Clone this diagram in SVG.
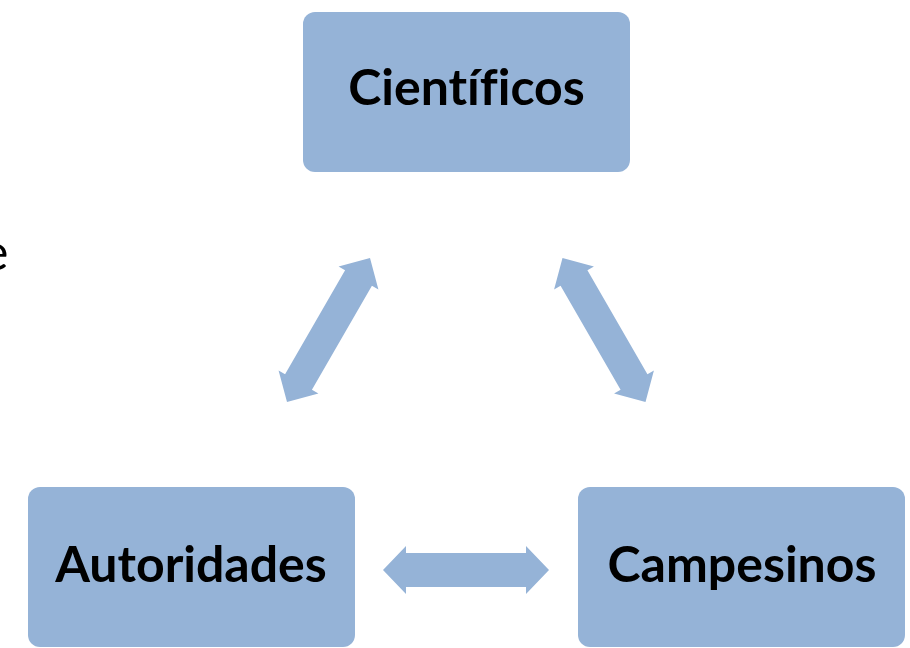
<svg xmlns="http://www.w3.org/2000/svg" xmlns:xlink="http://www.w3.org/1999/xlink" width="910" height="648" viewBox="0 0 910 648">
<style>
.box{fill:#95B3D7;}
.lbl{font-family:Lato,"Open Sans","Liberation Sans",sans-serif;font-weight:700;font-size:50px;fill:#000;text-anchor:middle;font-variant-ligatures:none;}
.arr{fill:#95B3D7;}
</style>
<defs>
<path id="dbl" d="M -83 0 L -60 -23 L -60 -15.5 L 60 -15.5 L 60 -23 L 83 0 L 60 23 L 60 15.5 L -60 15.5 L -60 23 Z"/>
</defs>
<rect width="910" height="648" fill="#fff"/>
<text x="-18" y="270" style="font-family:Lato,'Liberation Sans',sans-serif;font-size:50px;fill:#000;">e</text>
<g id="connectors" class="arr">
<use xlink:href="#dbl" transform="translate(328.5,330) rotate(-60)"/>
<use xlink:href="#dbl" transform="translate(604,330) rotate(60)"/>
<path d="M 383 570 L 406 546 L 406 553 L 526 553 L 526 546 L 549 570 L 526 594 L 526 587 L 406 587 L 406 594 Z"/>
</g>
<g id="cientificos">
<rect class="box" x="303" y="12" width="327" height="160" rx="12"/>
<text class="lbl" x="466.5" y="105">Científicos</text>
</g>
<g id="autoridades">
<rect class="box" x="28" y="487" width="327" height="160" rx="12"/>
<text class="lbl" x="191" y="582">Autoridades</text>
</g>
<g id="campesinos">
<rect class="box" x="578" y="487" width="327" height="160" rx="12"/>
<text class="lbl" x="742" y="582">Campesinos</text>
</g>
</svg>
